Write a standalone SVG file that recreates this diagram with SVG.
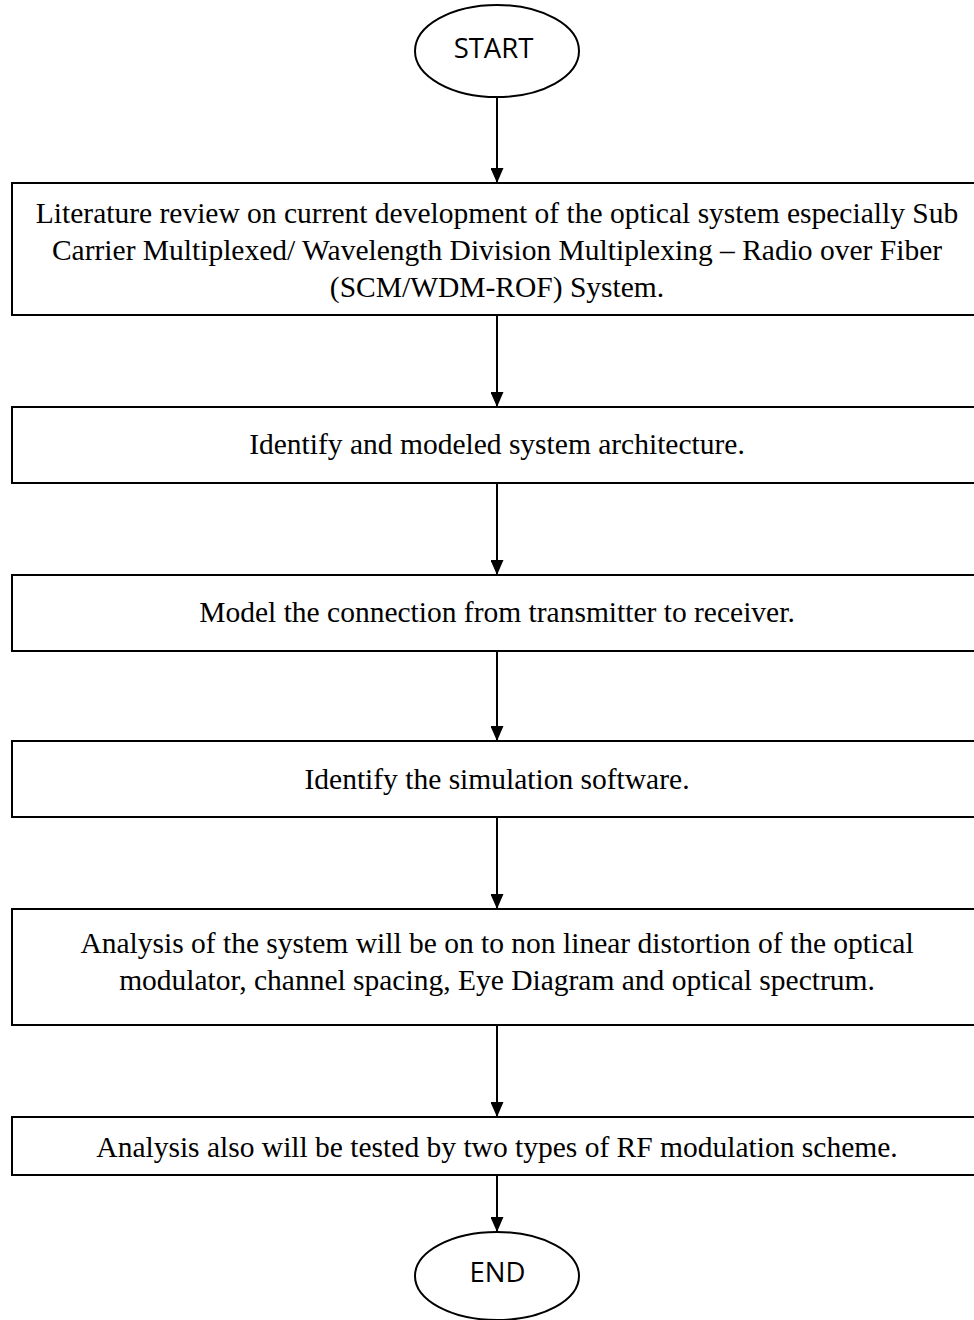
<svg xmlns="http://www.w3.org/2000/svg" width="974" height="1320" viewBox="0 0 974 1320">
<style>
.box{fill:#fff;stroke:#000;stroke-width:2}
.t{font-family:"Liberation Serif","Times New Roman",serif;font-size:29.5px;fill:#000;text-anchor:middle}
.s{font-family:"Open Sans","DejaVu Sans",sans-serif;font-size:27.5px;fill:#000;text-anchor:middle}
.c{stroke:#000;stroke-width:2;fill:none}
</style>
<defs>
<marker id="ah" viewBox="0 0 15 13" refX="15" refY="6.5" markerWidth="15" markerHeight="13" markerUnits="userSpaceOnUse" orient="auto">
<path d="M0,0 L15,6.5 L0,13 Z" fill="#000"/>
</marker>
</defs>
<g id="start"><ellipse cx="497" cy="51" rx="82" ry="46" class="box"/><text class="s" x="493.5" y="58">START</text></g>
<g id="n1"><rect class="box" x="12" y="183" width="970" height="132"/>
<text class="t" x="497" y="223">Literature review on current development of the optical system especially Sub</text>
<text class="t" x="497" y="260">Carrier Multiplexed/ Wavelength Division Multiplexing – Radio over Fiber</text>
<text class="t" x="497" y="297">(SCM/WDM-ROF) System.</text></g>
<g id="n2"><rect class="box" x="12" y="407" width="970" height="76"/><text class="t" x="497" y="454">Identify and modeled system architecture.</text></g>
<g id="n3"><rect class="box" x="12" y="575" width="970" height="76"/><text class="t" x="497" y="622">Model the connection from transmitter to receiver.</text></g>
<g id="n4"><rect class="box" x="12" y="741" width="970" height="76"/><text class="t" x="497" y="789">Identify the simulation software.</text></g>
<g id="n5"><rect class="box" x="12" y="909" width="970" height="116"/>
<text class="t" x="497" y="953">Analysis of the system will be on to non linear distortion of the optical</text>
<text class="t" x="497" y="990">modulator, channel spacing, Eye Diagram and optical spectrum.</text></g>
<g id="n6"><rect class="box" x="12" y="1117" width="970" height="58"/><text class="t" x="497" y="1157">Analysis also will be tested by two types of RF modulation scheme.</text></g>
<g id="end"><ellipse cx="497" cy="1276" rx="82" ry="44" class="box"/><text class="s" x="497.5" y="1282">END</text></g>
<g id="connectors" class="c">
<path d="M497,97 V183" marker-end="url(#ah)"/>
<path d="M497,315 V407" marker-end="url(#ah)"/>
<path d="M497,483 V575" marker-end="url(#ah)"/>
<path d="M497,651 V741" marker-end="url(#ah)"/>
<path d="M497,817 V909" marker-end="url(#ah)"/>
<path d="M497,1025 V1117" marker-end="url(#ah)"/>
<path d="M497,1175 V1232" marker-end="url(#ah)"/>
</g>
</svg>
